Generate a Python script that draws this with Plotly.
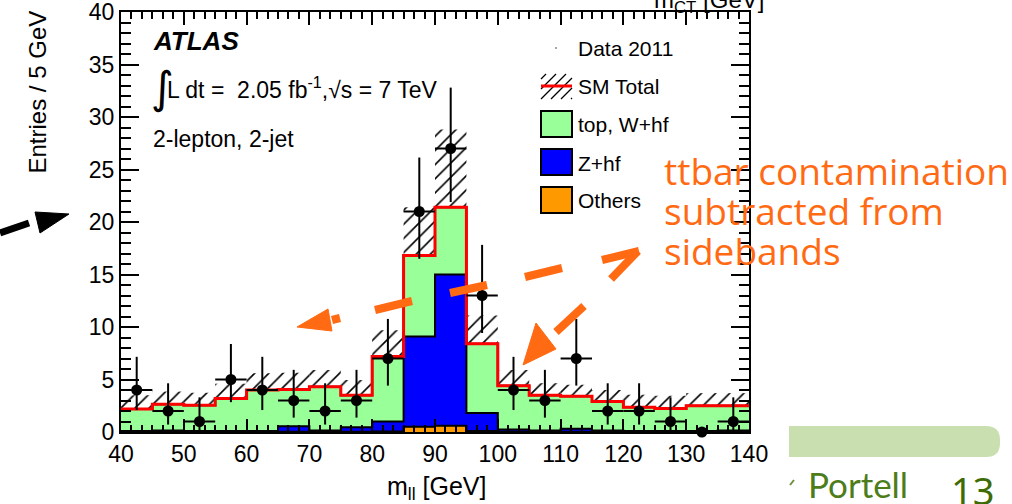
import plotly.graph_objects as go
import numpy as np

# ---------------- data ----------------
bin_lo = [40, 45, 50, 55, 60, 65, 70, 75, 80, 85, 90, 95, 100, 105, 110, 115, 120, 125, 130, 135]
bin_width = 5
others = [0.03, 0.03, 0.03, 0.03, 0.03, 0.03, 0.03, 0.03, 0.05, 0.5, 0.6, 0.1,
          0.03, 0.03, 0.03, 0.03, 0.03, 0.03, 0.03, 0.03]
z_hf = [0.07, 0.12, 0.07, 0.07, 0.07, 0.52, 0.12, 0.42, 0.95, 8.6, 14.4, 1.7,
        0.22, 0.12, 0.27, 0.12, 0.07, 0.07, 0.07, 0.12]
top_whf = [2.1, 2.5, 2.45, 3.1, 3.9, 3.5, 4.15, 3.05, 6.2, 7.7, 6.4, 6.6,
           4.15, 3.35, 3.1, 2.75, 2.25, 2.15, 2.4, 2.35]
sm_err = [1.3, 1.2, 1.2, 1.4, 1.6, 1.6, 1.6, 1.45, 2.5, 4.6, 7.4, 2.7,
          1.5, 1.15, 1.1, 1.1, 1.2, 1.2, 1.2, 1.2]
data_2011 = [4, 2, 1, 5, 4, 3, 2, 3, 7, 21, 27, 13, 4, 3, 7, 2, 2, 1, 0, 1]
data_err_up = [3.16, 2.64, 2.30, 3.38, 3.16, 2.92, 2.64, 2.92, 3.77, 5.14, 5.8, 4.82,
               3.16, 2.92, 3.77, 2.64, 2.64, 2.30, 0.0, 2.30]
data_err_dn = [1.91, 1.29, 0.83, 2.16, 1.91, 1.63, 1.29, 1.63, 2.58, 4.5, 5.1, 3.57,
               1.91, 1.63, 2.58, 1.29, 1.29, 0.83, 0.0, 0.83]

x_ticks = [40, 50, 60, 70, 80, 90, 100, 110, 120, 130, 140]
y_ticks = [0, 5, 10, 15, 20, 25, 30, 35, 40]

# ---------------- derived (stacking) ----------------
lo = np.array(bin_lo, dtype=float)
edges = list(lo) + [lo[-1] + bin_width]
centers = lo + bin_width / 2
s_oth = np.array(others)
s_z = s_oth + np.array(z_hf)
s_tot = s_z + np.array(top_whf)
err = np.array(sm_err)


def step(v):
    v = list(v)
    return v + [v[-1]]


# ---------------- layout geometry (pixels) ----------------
W, H = 1012, 504
L, R, T, B = 121, 749, 12, 432


def px(x):
    return (x - L) / (R - L)


def py(y):
    return (B - y) / (B - T)


CHART_FONT = "Liberation Sans"
ORANGE = "#ff6a13"

fig = go.Figure()

# stacked histograms
fig.add_trace(go.Scatter(x=edges, y=step(s_tot), mode="lines", line_shape="hv",
                         fill="tozeroy", fillcolor="#99ff99",
                         line=dict(color="black", width=2), hoverinfo="skip"))
fig.add_trace(go.Scatter(x=edges, y=step(s_z), mode="lines", line_shape="hv",
                         fill="tozeroy", fillcolor="#0000ff",
                         line=dict(color="black", width=2), hoverinfo="skip"))
fig.add_trace(go.Scatter(x=edges, y=step(s_oth), mode="lines", line_shape="hv",
                         fill="tozeroy", fillcolor="#ff9900",
                         line=dict(color="black", width=2), hoverinfo="skip"))

# hatched uncertainty band
fig.add_trace(go.Bar(x=centers, y=2 * err, base=s_tot - err, width=bin_width,
                     marker=dict(color="rgba(0,0,0,0)", line=dict(width=0),
                                 pattern=dict(shape="/", fgcolor="black", fgopacity=1,
                                              size=10, solidity=0.16, fillmode="overlay")),
                     hoverinfo="skip"))

# SM total red line
fig.add_trace(go.Scatter(x=edges, y=step(s_tot), mode="lines", line_shape="hv",
                         line=dict(color="#ff0000", width=3), hoverinfo="skip"))

# data
fig.add_trace(go.Scatter(x=centers, y=data_2011, mode="markers",
                         marker=dict(color="black", size=11),
                         error_x=dict(type="constant", value=bin_width / 2, thickness=2,
                                      width=0, color="black"),
                         error_y=dict(type="data", symmetric=False, array=data_err_up,
                                      arrayminus=data_err_dn, thickness=2, width=0,
                                      color="black"),
                         cliponaxis=False))

fig.update_layout(
    width=W, height=H,
    margin=dict(l=L, r=W - R, t=T, b=H - B, autoexpand=False),
    paper_bgcolor="white", plot_bgcolor="white",
    showlegend=False,
    barmode="overlay",
    xaxis=dict(range=[40, 140], tickmode="array", tickvals=x_ticks,
               ticktext=[str(v) for v in x_ticks],
               ticks="inside", ticklen=13, tickwidth=1.5, tickcolor="black",
               showline=True, linecolor="black", linewidth=2, mirror="allticks",
               showgrid=False, zeroline=False, automargin=False,
               ticklabeloverflow="allow",
               minor=dict(tick0=40, dtick=10 / 6, ticks="inside", ticklen=7,
                          tickwidth=1.5, tickcolor="black", showgrid=False),
               tickfont=dict(family=CHART_FONT, size=23, color="black")),
    yaxis=dict(range=[0, 40], tickmode="array", tickvals=y_ticks,
               ticktext=[str(v) for v in y_ticks],
               ticks="inside", ticklen=18, tickwidth=1.5, tickcolor="black",
               showline=True, linecolor="black", linewidth=2, mirror="allticks",
               showgrid=False, zeroline=False, automargin=False,
               ticklabeloverflow="allow",
               minor=dict(tick0=0, dtick=1, ticks="inside", ticklen=10,
                          tickwidth=1.5, tickcolor="black", showgrid=False),
               tickfont=dict(family=CHART_FONT, size=23, color="black")),
)

ann = []
shapes = []

# axis titles
ann.append(dict(text="Entries / 5 GeV", xref="paper", yref="paper", x=px(37), y=py(9),
                xanchor="center", yanchor="top", textangle=-90, showarrow=False,
                font=dict(family=CHART_FONT, size=24, color="black")))
ann.append(dict(text="m<sub>ll</sub> [GeV]", xref="paper", yref="paper", x=px(436), y=py(488),
                xanchor="center", yanchor="middle", showarrow=False,
                font=dict(family=CHART_FONT, size=25, color="black")))
ann.append(dict(text="m<sub>CT</sub> [GeV]", xref="paper", yref="paper", x=px(652), y=py(19),
                xanchor="left", yanchor="bottom", showarrow=False,
                font=dict(family=CHART_FONT, size=24, color="black")))

# ATLAS labels
ann.append(dict(text="<b><i>ATLAS</i></b>", xref="paper", yref="paper", x=px(151), y=py(41),
                xanchor="left", yanchor="middle", showarrow=False,
                font=dict(family=CHART_FONT, size=26, color="black")))
ann.append(dict(text="∫", xref="paper", yref="paper", x=px(149), y=py(87),
                xanchor="left", yanchor="middle", showarrow=False,
                font=dict(family="DejaVu Sans", size=44, color="black")))
ann.append(dict(text="L dt =  2.05 fb<sup>-1</sup>,√s = 7 TeV", xref="paper", yref="paper",
                x=px(165), y=py(88), xanchor="left", yanchor="middle", showarrow=False,
                font=dict(family=CHART_FONT, size=23, color="black")))
ann.append(dict(text="2-lepton, 2-jet", xref="paper", yref="paper", x=px(151), y=py(139),
                xanchor="left", yanchor="middle", showarrow=False,
                font=dict(family=CHART_FONT, size=23, color="black")))

# legend (drawn by hand)
leg_font = dict(family=CHART_FONT, size=21, color="black")
leg_items = [("Data 2011", 48), ("SM Total", 86), ("top, W+hf", 124), ("Z+hf", 163), ("Others", 201)]
for txt, yc in leg_items:
    ann.append(dict(text=txt, xref="paper", yref="paper", x=px(576), y=py(yc),
                    xanchor="left", yanchor="middle", showarrow=False, font=leg_font))
shapes.append(dict(type="circle", xref="paper", yref="paper", x0=px(555), x1=px(557),
                   y0=py(49), y1=py(47), fillcolor="#888", line=dict(width=0)))
# SM total hatched box
bx0, bx1, by0, by1 = 541, 572, 74, 99
for c in range(620, 672, 10):
    xa = max(bx0, c - by1)
    xb = min(bx1, c - by0)
    if xb > xa:
        shapes.append(dict(type="line", xref="paper", yref="paper", x0=px(xa), y0=py(c - xa),
                           x1=px(xb), y1=py(c - xb), line=dict(color="black", width=1.3)))
shapes.append(dict(type="line", xref="paper", yref="paper", x0=px(541), x1=px(572),
                   y0=py(86), y1=py(86), line=dict(color="#ff0000", width=3)))
for col, (t0, t1) in [("#99ff99", (111, 137)), ("#0000ff", (149, 175)), ("#ff9900", (187, 213))]:
    shapes.append(dict(type="rect", xref="paper", yref="paper", x0=px(541), x1=px(572),
                       y0=py(t1), y1=py(t0), fillcolor=col, line=dict(color="black", width=2)))

# ---------------- slide overlay ----------------
for i, line in enumerate(["ttbar contamination", "subtracted from", "sidebands"]):
    ann.append(dict(text=line, xref="paper", yref="paper", x=px(662), y=py(170 + 40 * i),
                    xanchor="left", yanchor="middle", showarrow=False,
                    font=dict(family="Open Sans", size=37, color=ORANGE)))


def seg(x0, y0, x1, y1, color, w):
    shapes.append(dict(type="line", xref="paper", yref="paper", x0=px(x0), y0=py(y0),
                       x1=px(x1), y1=py(y1), line=dict(color=color, width=w)))


def tri(pts, color):
    p = "M " + " L ".join(f"{px(a)},{py(b)}" for a, b in pts) + " Z"
    shapes.append(dict(type="path", xref="paper", yref="paper", path=p,
                       fillcolor=color, line=dict(color=color, width=1)))


# arrow to the left sideband
seg(602, 260, 639, 251, ORANGE, 8)
seg(525, 277, 562, 268, ORANGE, 8)
seg(450, 293, 487, 285, ORANGE, 8)
seg(375, 310, 412, 301, ORANGE, 8)
seg(332, 320, 340, 318, ORANGE, 8)
tri([(297, 327), (328, 309), (332, 331)], ORANGE)
# arrow to the right sideband
seg(638, 251, 611, 279, ORANGE, 8)
seg(584, 306, 556, 332, ORANGE, 8)
tri([(523, 365), (536, 323), (556, 349)], ORANGE)
# black arrow on the left
seg(0, 233, 29, 223, "black", 7)
tri([(69, 214), (35, 212), (40, 233)], "black")

# green footer bar
p = (f"M {px(789)},{py(426)} L {px(986)},{py(426)} Q {px(1000)},{py(426)} {px(1000)},{py(440)} "
     f"L {px(1000)},{py(443)} Q {px(1000)},{py(457)} {px(986)},{py(457)} L {px(789)},{py(457)} Z")
shapes.append(dict(type="path", xref="paper", yref="paper", path=p,
                   fillcolor="#c9dfb0", line=dict(width=0), layer="below"))
seg(790, 485, 794, 480, "#6b8f3a", 2)
ann.append(dict(text="Portell", xref="paper", yref="paper", x=px(806), y=py(484),
                xanchor="left", yanchor="middle", showarrow=False,
                font=dict(family="Lato", size=35, color="#4d7d1a")))
ann.append(dict(text="13", xref="paper", yref="paper", x=px(949), y=py(490),
                xanchor="left", yanchor="middle", showarrow=False,
                font=dict(family="Noto Sans", size=38, color="#3d6b05")))

fig.update_layout(annotations=ann, shapes=shapes)
fig.write_html("out.html")
